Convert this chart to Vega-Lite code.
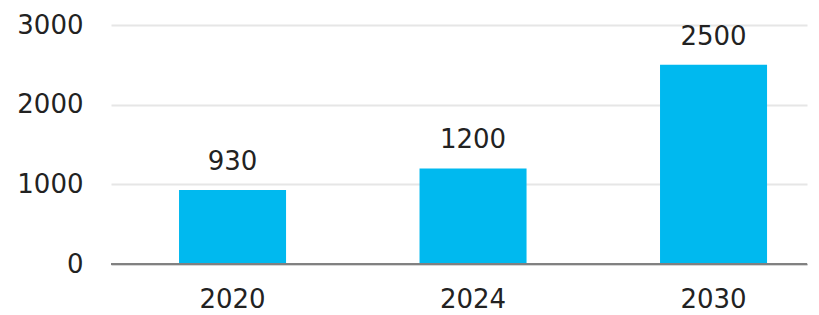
{
  "$schema": "https://vega.github.io/schema/vega-lite/v6.json",
  "autosize": {"type": "none"},
  "padding": {"left": 111, "top": 25, "right": 12, "bottom": 51},
  "width": 696,
  "height": 239,
  "background": "white",
  "config": {
    "view": {"stroke": null},
    "font": "DejaVu Sans"
  },
  "data": {
    "values": [
      {"year": "2020", "value": 930},
      {"year": "2024", "value": 1200},
      {"year": "2030", "value": 2500}
    ]
  },
  "encoding": {
    "x": {
      "field": "year",
      "type": "nominal",
      "sort": null,
      "scale": {"paddingInner": 0.555, "paddingOuter": 0.2245, "align": 0.63},
      "axis": {
        "title": null,
        "labelAngle": 0,
        "labelFontSize": 26,
        "labelColor": "#222222",
        "labelPadding": 22,
        "ticks": false,
        "domainColor": "#808080",
        "domainWidth": 1.5,
        "grid": false
      }
    },
    "y": {
      "field": "value",
      "type": "quantitative",
      "scale": {"domain": [0, 3000], "nice": false},
      "axis": {
        "title": null,
        "values": [0, 1000, 2000, 3000],
        "format": "d",
        "labelFontSize": 26,
        "labelColor": "#222222",
        "labelPadding": 28,
        "ticks": false,
        "domain": false,
        "gridColor": "#e6e6e6",
        "gridWidth": 2
      }
    }
  },
  "layer": [
    {"mark": {"type": "bar", "color": "#00B9EF"}},
    {
      "mark": {"type": "text", "baseline": "alphabetic", "dy": -20, "fontSize": 26, "color": "#222222"},
      "encoding": {"text": {"field": "value", "type": "quantitative"}}
    },
    {
      "mark": {"type": "rule", "color": "#808080", "strokeWidth": 1.5},
      "encoding": {"y": {"datum": 0}, "x": {"value": 0}, "x2": {"value": 696}}
    }
  ]
}
